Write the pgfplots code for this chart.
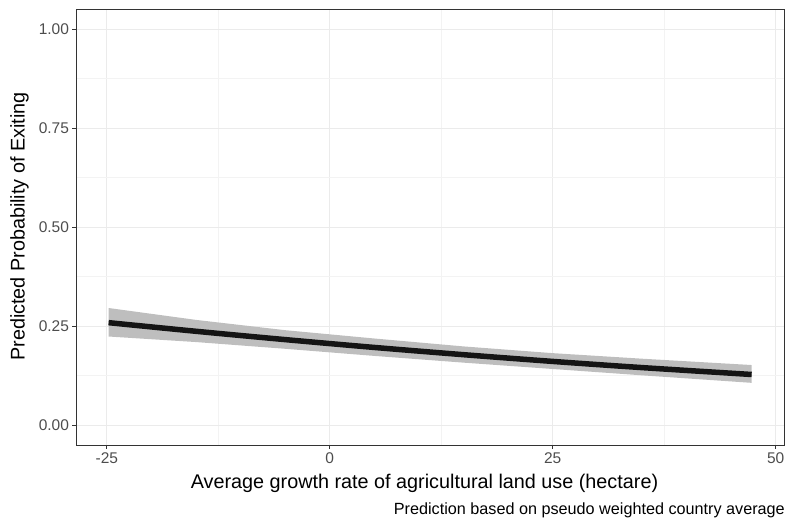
\documentclass[border=0pt]{standalone}
\usepackage{pgfplots}
\pgfplotsset{compat=1.18}
\usepackage{fontspec}
\setmainfont{Liberation Sans}
\definecolor{gridcol}{HTML}{EBEBEB}
\definecolor{minorgridcol}{HTML}{F3F3F3}
\definecolor{framecol}{HTML}{333333}
\definecolor{ticklab}{HTML}{4D4D4D}
\definecolor{ribboncol}{HTML}{BEBEBE}
\begin{document}
\begin{tikzpicture}[x=1pt,y=1pt]
\path[use as bounding box] (-76.5,-77) rectangle (708.5,445);
\begin{axis}[
  at={(0,0)}, anchor=south west,
  scale only axis, width=707.5pt, height=435.5pt,
  xmin=-28.4, xmax=50.93, ymin=-0.05, ymax=1.05,
  xtick={-25,0,25,50}, xticklabels={-25,0,25,50},
  ytick={0,0.25,0.5,0.75,1}, yticklabels={0.00,0.25,0.50,0.75,1.00},
  minor xtick={-12.5,12.5,37.5}, minor ytick={0.125,0.375,0.625,0.875},
  grid=both,
  major grid style={draw=gridcol, line width=1.2pt},
  minor grid style={draw=minorgridcol, line width=0.7pt},
  axis line style={draw=framecol, line width=0.8pt},
  tick style={draw=framecol, line width=0.8pt},
  tick align=outside, major tick length=4pt, minor tick length=0pt,
  xtick pos=bottom, ytick pos=left,
  tick label style={font=\fontsize{15.5}{17}\selectfont, text=ticklab},
  /pgf/number format/assume math mode=true,
  clip=true,
]
\addplot[draw=none, fill=ribboncol, forget plot] coordinates {
(-24.8,0.296) (-15,0.266) (-5,0.240) (5,0.219) (15,0.199) (25,0.182) (35,0.168) (47.3,0.152)
(47.3,0.107) (35,0.126) (25,0.142) (15,0.158) (5,0.175) (-5,0.193) (-15,0.210) (-24.8,0.224)
} -- cycle;
\addplot[black!92, line width=5.5pt, smooth] coordinates {
(-24.8,0.259) (-15,0.2372) (-5,0.2162) (5,0.1964) (15,0.1781) (25,0.1611) (35,0.1455) (47.3,0.1281)
};
\end{axis}
\node[rotate=90, font=\fontsize{19.8}{22}\selectfont, text=black] at (-57,218.5) {Predicted Probability of Exiting};
\node[font=\fontsize{19.8}{22}\selectfont, text=black] at (348,-38.5) {Average growth rate of agricultural land use (hectare)};
\node[anchor=east, font=\fontsize{16.2}{18}\selectfont, text=black, inner sep=0pt] at (708.5,-65) {Prediction based on pseudo weighted country average};
\end{tikzpicture}
\end{document}
